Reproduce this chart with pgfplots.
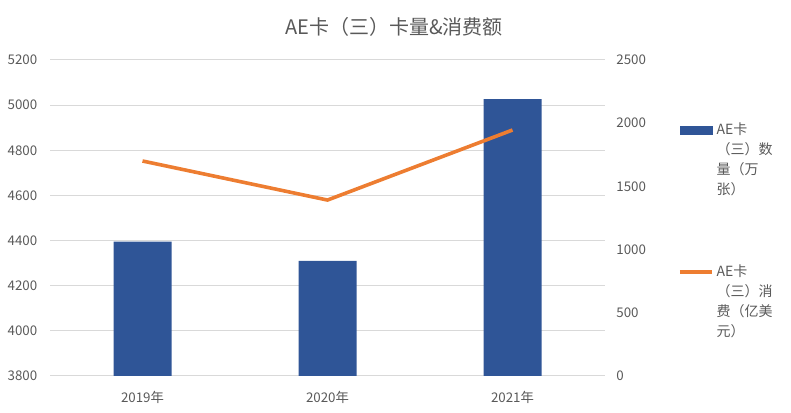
\documentclass[border=0pt]{standalone}
\usepackage{fontspec}
\setmainfont{Noto Sans CJK SC}
\usepackage{pgfplots}
\pgfplotsset{compat=1.18}

\definecolor{barblue}{RGB}{47,85,151}
\definecolor{lineorange}{RGB}{237,125,49}
\definecolor{gridgray}{RGB}{217,217,217}
\definecolor{textgray}{RGB}{89,89,89}

\pgfplotsset{
  base/.style={
    width=416.25pt, height=237pt, scale only axis,
    xmin=-0.5, xmax=2.5,
    tick style={draw=none},
    axis line style={draw=none},
    ticklabel style={font=\fontsize{10}{12}\selectfont, text=textgray},
    /pgf/number format/assume math mode=true,
    /pgf/number format/1000 sep={},
  }
}

\begin{document}
\begin{tikzpicture}
  % bars: card count (left axis)
  \begin{axis}[base, name=main,
      ymin=3800, ymax=5200, ytick={3800,4000,...,5200},
      ymajorgrids, grid style={gridgray, line width=0.75pt},
      xtick={0,1,2}, xticklabels={2019年,2020年,2021年},
      yticklabel style={xshift=-6pt},
      xticklabel style={yshift=-4pt},
      ybar, bar width=43.5pt,
    ]
    \addplot[fill=barblue, draw=none] coordinates {(0,4395) (1,4310) (2,5027)};
  \end{axis}

  % line: spending (right axis)
  \begin{axis}[base,
      ymin=0, ymax=2500, ytick={0,500,...,2500},
      axis y line*=right, hide x axis,
      yticklabel style={xshift=5pt},
      legend style={at={(1.131,0.81)}, anchor=north west, draw=none, fill=none,
        font=\fontsize{10.5}{15}\selectfont, text=textgray, row sep=92pt,
        cells={anchor=base west}, inner sep=0pt},
    ]
    \addlegendimage{legend image code/.code={\fill[barblue] (0pt,0pt) rectangle (24pt,6pt);}}
    \addlegendentry{\parbox[t]{60pt}{\raggedright AE卡\\（三）数\\量（万\\张）}}
    \addplot[lineorange, line width=2.7pt, line join=round,
      legend image code/.code={\draw[lineorange, line width=3pt] (0pt,3pt) -- (24pt,3pt);}]
      coordinates {(0,1701) (1,1392) (2,1946)};
    \addlegendentry{\parbox[t]{60pt}{\raggedright AE卡\\（三）消\\费（亿美\\元）}}
  \end{axis}

  \node[font=\fontsize{15}{18}\selectfont, text=textgray]
    at ([xshift=258pt, yshift=24.75pt]main.north west) {AE卡（三）卡量\&消费额};

  \path (main.south west) ++(-37.5pt,-27.75pt) coordinate (bl);
  \path (main.north east) ++(139.5pt,45pt) coordinate (tr);
  \pgfresetboundingbox
  \path[use as bounding box] (bl) rectangle (tr);
\end{tikzpicture}
\end{document}
